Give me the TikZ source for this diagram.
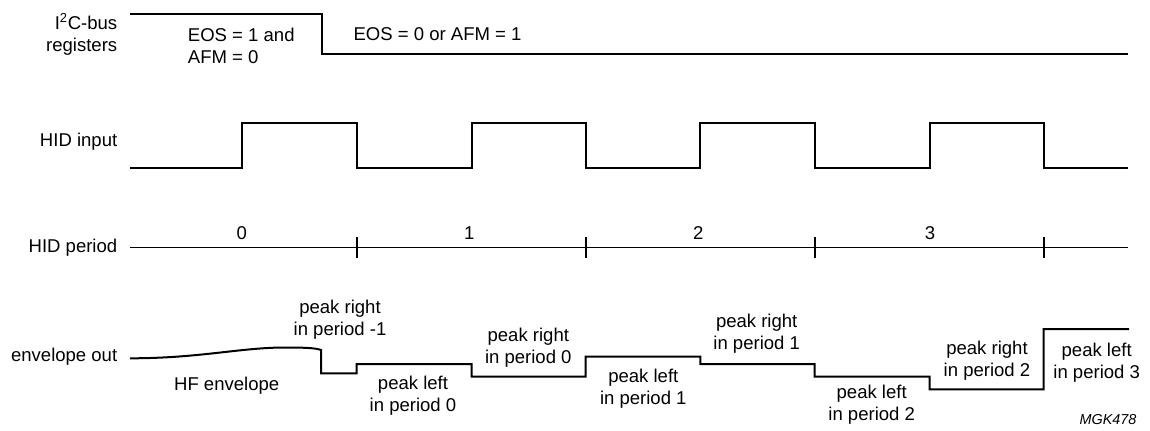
\documentclass[tikz,border=0pt]{standalone}
\usepackage{fontspec}
\setmainfont{Liberation Sans}
\tikzset{
  wave/.style={line width=1.5pt, line join=miter},
  axis/.style={line width=0.75pt},
  tick/.style={line width=1.5pt},
  lbl/.style={font=\fontsize{13.9pt}{16.5pt}\selectfont, inner sep=0pt, align=center},
}
\begin{document}
\begin{tikzpicture}[x=0.75pt, y=-0.75pt]
\useasboundingbox (0,0) rectangle (1150,430);
% signal names
\node[lbl, anchor=east, align=right] (L_0) at (117.5,34) {I\textsuperscript{2}C-bus\\registers};
\node[lbl, anchor=east] (L_1) at (117.5,142) {HID input};
\node[lbl, anchor=east] (L_2) at (117.5,248) {HID period};
\node[lbl, anchor=east] (L_3) at (117.5,357) {envelope out};
% I2C-bus registers
\coordinate (R_0) at (130,14.3);
\coordinate (R_1) at (322.3,14.3);
\coordinate (R_2) at (322.3,54);
\coordinate (R_3) at (1128,54);
\draw[wave] (R_0) -- (R_1) -- (R_2) -- (R_3);
\node[lbl, anchor=west, align=left] (R_a) at (187.7,46) {EOS = 1 and\\AFM = 0};
\node[lbl, anchor=west] (R_b) at (353.3,34.3) {EOS = 0 or AFM = 1};
% HID input
\draw[wave] (130,167.7) -- (242.3,167.7) -- (242.3,123.3) -- (356.7,123.3)
  -- (356.7,167.7) -- (471.5,167.7) -- (471.5,123.3) -- (585.7,123.3)
  -- (585.7,167.7) -- (700.3,167.7) -- (700.3,123.3) -- (814.5,123.3)
  -- (814.5,167.7) -- (929.7,167.7) -- (929.7,123.3) -- (1043.7,123.3)
  -- (1043.7,167.7) -- (1128,167.7);
% HID period
\coordinate (P_s) at (130,247.7);
\coordinate (P_e) at (1128,247.7);
\draw[axis] (P_s) -- (P_e);
\draw[tick] (356.7,236.7) -- (356.7,258.3);
\draw[tick] (585.7,236.7) -- (585.7,258.3);
\draw[tick] (814.5,236.7) -- (814.5,258.3);
\draw[tick] (1043.7,236.7) -- (1043.7,258.3);
\node[lbl] (P_0) at (241.7,233.5) {0};
\node[lbl] (P_1) at (469.3,233.5) {1};
\node[lbl] (P_2) at (698.3,233.5) {2};
\node[lbl] (P_3) at (930,233.5) {3};
% envelope out
\draw[wave] (130,358.3) .. controls (200,358.3) and (240,347.5) .. (285,347.5)
  .. controls (305,347.5) and (316,348) .. (321,350)
  -- (321,373.3) -- (356.7,373.3) -- (356.7,364) -- (471.5,364)
  -- (471.5,376.7) -- (585.7,376.7) -- (585.7,356.7) -- (700.3,356.7)
  -- (700.3,364) -- (814.5,364) -- (814.5,376.7) -- (929.7,376.7)
  -- (929.7,389.3) -- (1043.7,389.3) -- (1043.7,329) -- (1129,329);
\node[lbl] (E_0) at (226.7,386) {HF envelope};
\node[lbl] (E_1) at (340,320) {peak right\\in period -1};
\node[lbl] (E_2) at (413,395.5) {peak left\\in period 0};
\node[lbl] (E_3) at (528.3,347.5) {peak right\\in period 0};
\node[lbl] (E_4) at (643.3,388.5) {peak left\\in period 1};
\node[lbl] (E_5) at (756.7,334) {peak right\\in period 1};
\node[lbl] (E_6) at (871.7,405) {peak left\\in period 2};
\node[lbl] (E_7) at (987,360.5) {peak right\\in period 2};
\node[lbl] (E_8) at (1096.7,362.5) {peak left\\in period 3};
\node[font=\fontsize{10.8pt}{13pt}\selectfont\itshape, inner sep=0pt, anchor=east] (M_0) at (1136.7,420) {MGK478};
\end{tikzpicture}
\end{document}
